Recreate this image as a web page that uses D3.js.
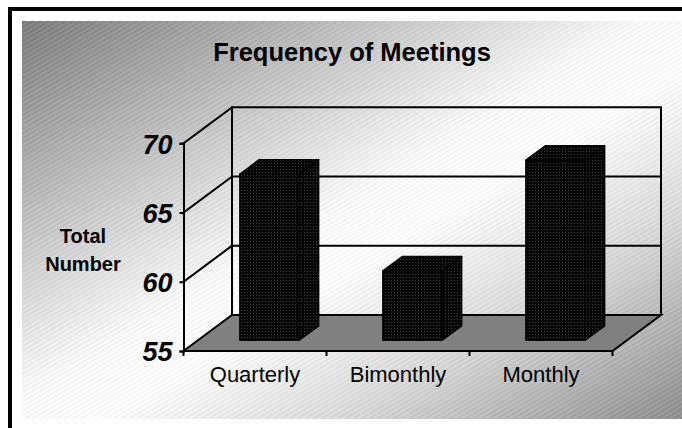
<!DOCTYPE html>
<html>
<head>
<meta charset="utf-8">
<script src="https://cdn.jsdelivr.net/npm/d3@7"></script>
<style>
  html, body { margin: 0; padding: 0; background: #fff; }
  svg { display: block; }
  text { font-family: "Liberation Sans", Arial, Helvetica, sans-serif; fill: #000; }
</style>
</head>
<body>
<svg id="chart" width="682" height="428"></svg>
<script>
// Chart data
const categories = ["Quarterly", "Bimonthly", "Monthly"];
const meetingCounts = [67, 60, 68];
const yTicks = [55, 60, 65, 70];
const titleText = "Frequency of Meetings";
const yAxisLines = ["Total", "Number"];

(function draw() {
const W = 682, H = 428;
const svg = d3.select("#chart");
const defs = svg.append("defs");

// Background: diagonal grey-white-grey gradient with a fine hatch texture
const bg = defs.append("linearGradient").attr("id", "bgGrad")
  .attr("x1", 0).attr("y1", 0).attr("x2", 1).attr("y2", 1);
[[0, "#7a7a7a"], [0.3, "#cdcdcd"], [0.47, "#fbfbfb"], [0.56, "#ffffff"], [0.75, "#d8d8d8"], [1, "#8c8c8c"]]
  .forEach(([o, c]) => bg.append("stop").attr("offset", o).attr("stop-color", c));

const hatch = defs.append("pattern").attr("id", "hatch")
  .attr("width", 4).attr("height", 4).attr("patternUnits", "userSpaceOnUse")
  .attr("patternTransform", "rotate(-30)");
hatch.append("line").attr("x1", 0).attr("y1", 1).attr("x2", 4).attr("y2", 1)
  .attr("stroke", "#fff").attr("stroke-opacity", 0.16).attr("stroke-width", 1);
hatch.append("line").attr("x1", 0).attr("y1", 3).attr("x2", 4).attr("y2", 3)
  .attr("stroke", "#000").attr("stroke-opacity", 0.06).attr("stroke-width", 1);

// Dotted black fill for the bars
const dots = defs.append("pattern").attr("id", "barDots")
  .attr("width", 3).attr("height", 3).attr("patternUnits", "userSpaceOnUse");
dots.append("rect").attr("width", 3).attr("height", 3).attr("fill", "#060606");
dots.append("rect").attr("x", 1).attr("y", 1).attr("width", 1).attr("height", 1).attr("fill", "#3c3c3c");

// Frame
svg.append("rect").attr("x", 0).attr("y", 0).attr("width", W).attr("height", H).attr("fill", "#fff");
svg.append("rect").attr("x", 8).attr("y", 7).attr("width", W - 8).attr("height", 4).attr("fill", "#000");
svg.append("rect").attr("x", 8).attr("y", 7).attr("width", 4).attr("height", H - 7).attr("fill", "#000");
svg.append("rect").attr("x", 22).attr("y", 21).attr("width", W - 22).attr("height", 398).attr("fill", "url(#bgGrad)");
svg.append("rect").attr("x", 22).attr("y", 21).attr("width", W - 22).attr("height", 398).attr("fill", "url(#hatch)");

// Scales (front plane of the 3D box)
const x = d3.scaleBand().domain(categories).range([183.5, 612.5]);
const y = d3.scaleLinear().domain([55, 70]).range([351, 143.3]);

// Depth of the box: offset from front plane to back wall
const depthX = 48.5, depthY = -36;
const [vMin, vMax] = y.domain();
const [x0, x1] = x.range();

const g = svg.append("g");
const lineStyle = sel => sel.attr("stroke", "#000").attr("stroke-width", 2).attr("fill", "none")
  .attr("stroke-linejoin", "miter").attr("stroke-linecap", "square");

// Back wall outline and gridlines
g.append("path").call(lineStyle)
  .attr("d", `M${x0 + depthX},${y(vMin) + depthY} V${y(vMax) + depthY} H${x1 + depthX} V${y(vMin) + depthY}`);
yTicks.filter(t => t > vMin && t < vMax).forEach(t => {
  g.append("line").call(lineStyle)
    .attr("x1", x0 + depthX).attr("x2", x1 + depthX)
    .attr("y1", y(t) + depthY).attr("y2", y(t) + depthY);
});
// Side wall diagonals
yTicks.filter(t => t > vMin).forEach(t => {
  g.append("line").call(lineStyle)
    .attr("x1", x0).attr("y1", y(t))
    .attr("x2", x0 + depthX).attr("y2", y(t) + depthY);
});

// Floor
g.append("path").call(lineStyle).attr("fill", "#808080")
  .attr("d", `M${x0},${y(vMin)} L${x1},${y(vMin)} L${x1 + depthX},${y(vMin) + depthY} L${x0 + depthX},${y(vMin) + depthY} Z`);

// Bars (3D blocks)
const barFrac = 0.415;
const fz = 0.3, bz = 0.7; // bar front and back depth fractions
categories.forEach((c, i) => {
  const v = meetingCounts[i];
  const bw = x.bandwidth() * barFrac;
  const left = x(c) + (x.bandwidth() - bw) / 2;
  const right = left + bw;
  const fdx = depthX * fz, fdy = depthY * fz;
  const bdx = depthX * bz, bdy = depthY * bz;
  const yt = y(v), yb = y(vMin);
  const bar = g.append("g");
  const face = sel => sel.attr("fill", "url(#barDots)").attr("stroke", "#000")
    .attr("stroke-width", 1.5).attr("stroke-linejoin", "round");
  bar.append("path").call(face)
    .attr("d", `M${right + fdx},${yt + fdy} L${right + bdx},${yt + bdy} L${right + bdx},${yb + bdy} L${right + fdx},${yb + fdy} Z`);
  bar.append("path").call(face)
    .attr("d", `M${left + fdx},${yt + fdy} L${left + bdx},${yt + bdy} L${right + bdx},${yt + bdy} L${right + fdx},${yt + fdy} Z`);
  bar.append("path").call(face)
    .attr("d", `M${left + fdx},${yt + fdy} H${right + fdx} V${yb + fdy} H${left + fdx} Z`);
});

// Front value axis
const yAxis = d3.axisLeft(y).tickValues(yTicks).tickSize(4).tickFormat(d3.format("d"));
const ya = svg.append("g").attr("transform", `translate(${x0},0)`).call(yAxis);
ya.select(".domain").attr("stroke", "#000").attr("stroke-width", 2);
ya.selectAll(".tick line").attr("stroke", "#000").attr("stroke-width", 2);
ya.selectAll(".tick text")
  .attr("x", -11).attr("dy", "0.36em")
  .style("font-family", "'Liberation Sans', Arial, sans-serif")
  .style("font-size", "27px").style("font-weight", "bold").style("font-style", "italic")
  .attr("fill", "#000");

// Category axis along the floor front edge
const xAxis = d3.axisBottom(x).tickSize(5).tickSizeOuter(0);
const xa = svg.append("g").attr("transform", `translate(0,${y(vMin)})`).call(xAxis);
xa.select(".domain").remove();
xa.selectAll(".tick line").remove();
[x0, x0 + x.bandwidth(), x0 + 2 * x.bandwidth(), x1].forEach(px => {
  xa.append("line").attr("x1", px).attr("x2", px).attr("y1", 0).attr("y2", 5)
    .attr("stroke", "#000").attr("stroke-width", 2);
});
xa.selectAll(".tick text")
  .attr("y", 31).attr("dy", 0)
  .style("font-family", "'Liberation Sans', Arial, sans-serif")
  .style("font-size", "22px").attr("fill", "#000");

// Title
svg.append("text").attr("x", 352).attr("y", 61).attr("text-anchor", "middle")
  .style("font-size", "25.5px").style("font-weight", "bold").text(titleText);

// Axis title
yAxisLines.forEach((t, i) => {
  svg.append("text").attr("x", 83).attr("y", 243 + i * 28).attr("text-anchor", "middle")
    .style("font-size", "20px").style("font-weight", "bold").text(t);
});
})();
</script>
</body>
</html>
